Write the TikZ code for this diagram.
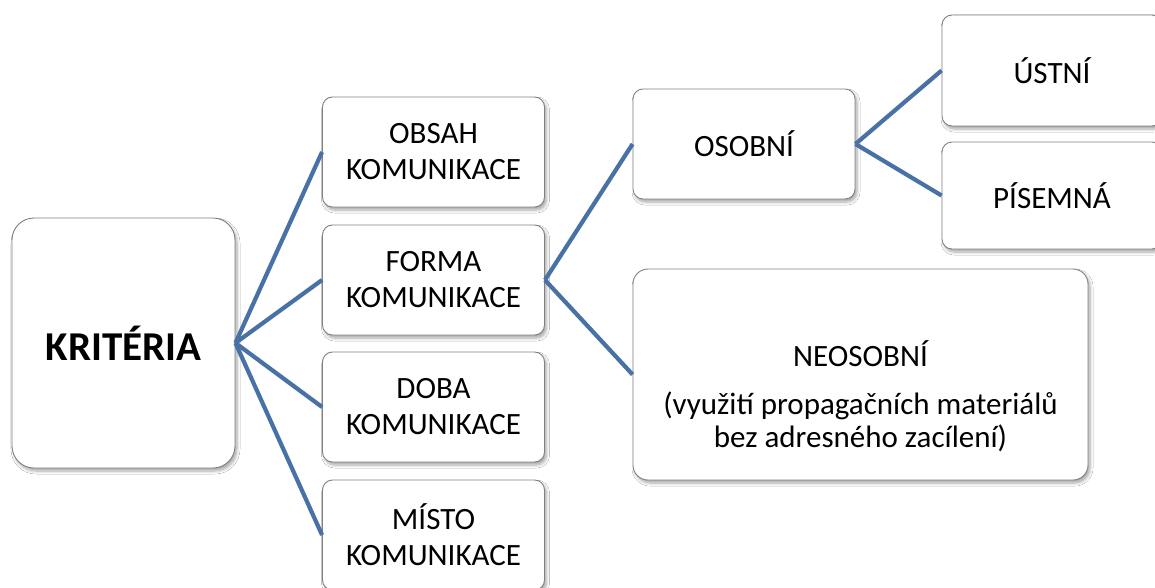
\documentclass[tikz,border=0pt]{standalone}
\usepackage{fontspec}
\setmainfont{Carlito}
\usetikzlibrary{shadows.blur}
\definecolor{linkblue}{RGB}{72,113,165}
\definecolor{boxedge}{RGB}{128,128,128}
\tikzset{
  card/.style={draw=boxedge, line width=0.9pt, fill=white, rounded corners=10pt,
    align=center, inner sep=0pt, text=black,
    font=\fontsize{31}{36}\selectfont,
    blur shadow={shadow xshift=2pt, shadow yshift=-3pt, shadow blur steps=6,
      shadow blur radius=3pt, shadow opacity=35}},
  cardtext/.style={align=center, inner sep=0pt, text=black,
    font=\fontsize{31}{33}\selectfont},
  link/.style={draw=linkblue, line width=4.2pt}
}
\begin{document}
\begin{tikzpicture}[x=1pt, y=-1pt]
  \clip (0,0) rectangle (1155,588);
  \fill[white] (0,0) rectangle (1155,588);

  % root
  \node[card, rounded corners=22pt, minimum width=223pt, minimum height=250pt,
        font=\fontsize{41}{48}\selectfont\bfseries] (krit) at (123.5,343) {KRITÉRIA};

  % first level
  \node[card, minimum width=222pt, minimum height=110pt] (obsah) at (433.5,152) {OBSAH\\KOMUNIKACE};
  \node[card, minimum width=222pt, minimum height=110pt] (forma) at (433.5,280) {FORMA\\KOMUNIKACE};
  \node[card, minimum width=222pt, minimum height=110pt] (doba)  at (433.5,407) {DOBA\\KOMUNIKACE};
  \node[card, minimum width=222pt, minimum height=110pt] (misto) at (433.5,535) {MÍSTO\\KOMUNIKACE};

  % second level
  \node[card, minimum width=222pt, minimum height=110pt] (osobni) at (744,144) {OSOBNÍ};
  \node[card, rounded corners=15pt, minimum width=455pt, minimum height=211pt,
        label={[cardtext, name=neotext, yshift=-22pt]center:NEOSOBNÍ\\[15pt](využití propagačních materiálů\\bez adresného zacílení)}]
        (neosobni) at (860.5,374.5) {};

  % third level
  \node[card, minimum width=220pt, minimum height=111pt] (ustni)   at (1052,70.5) {ÚSTNÍ};
  \node[card, minimum width=220pt, minimum height=107pt] (pisemna) at (1052,195.5) {PÍSEMNÁ};

  % connectors
  \draw[link] (krit.east) -- (obsah.west);
  \draw[link] (krit.east) -- (forma.west);
  \draw[link] (krit.east) -- (doba.west);
  \draw[link] (krit.east) -- (misto.west);
  \draw[link] (forma.east) -- (osobni.west);
  \draw[link] (forma.east) -- (neosobni.west);
  \draw[link] (osobni.east) -- (ustni.west);
  \draw[link] (osobni.east) -- (pisemna.west);
\end{tikzpicture}
\end{document}
